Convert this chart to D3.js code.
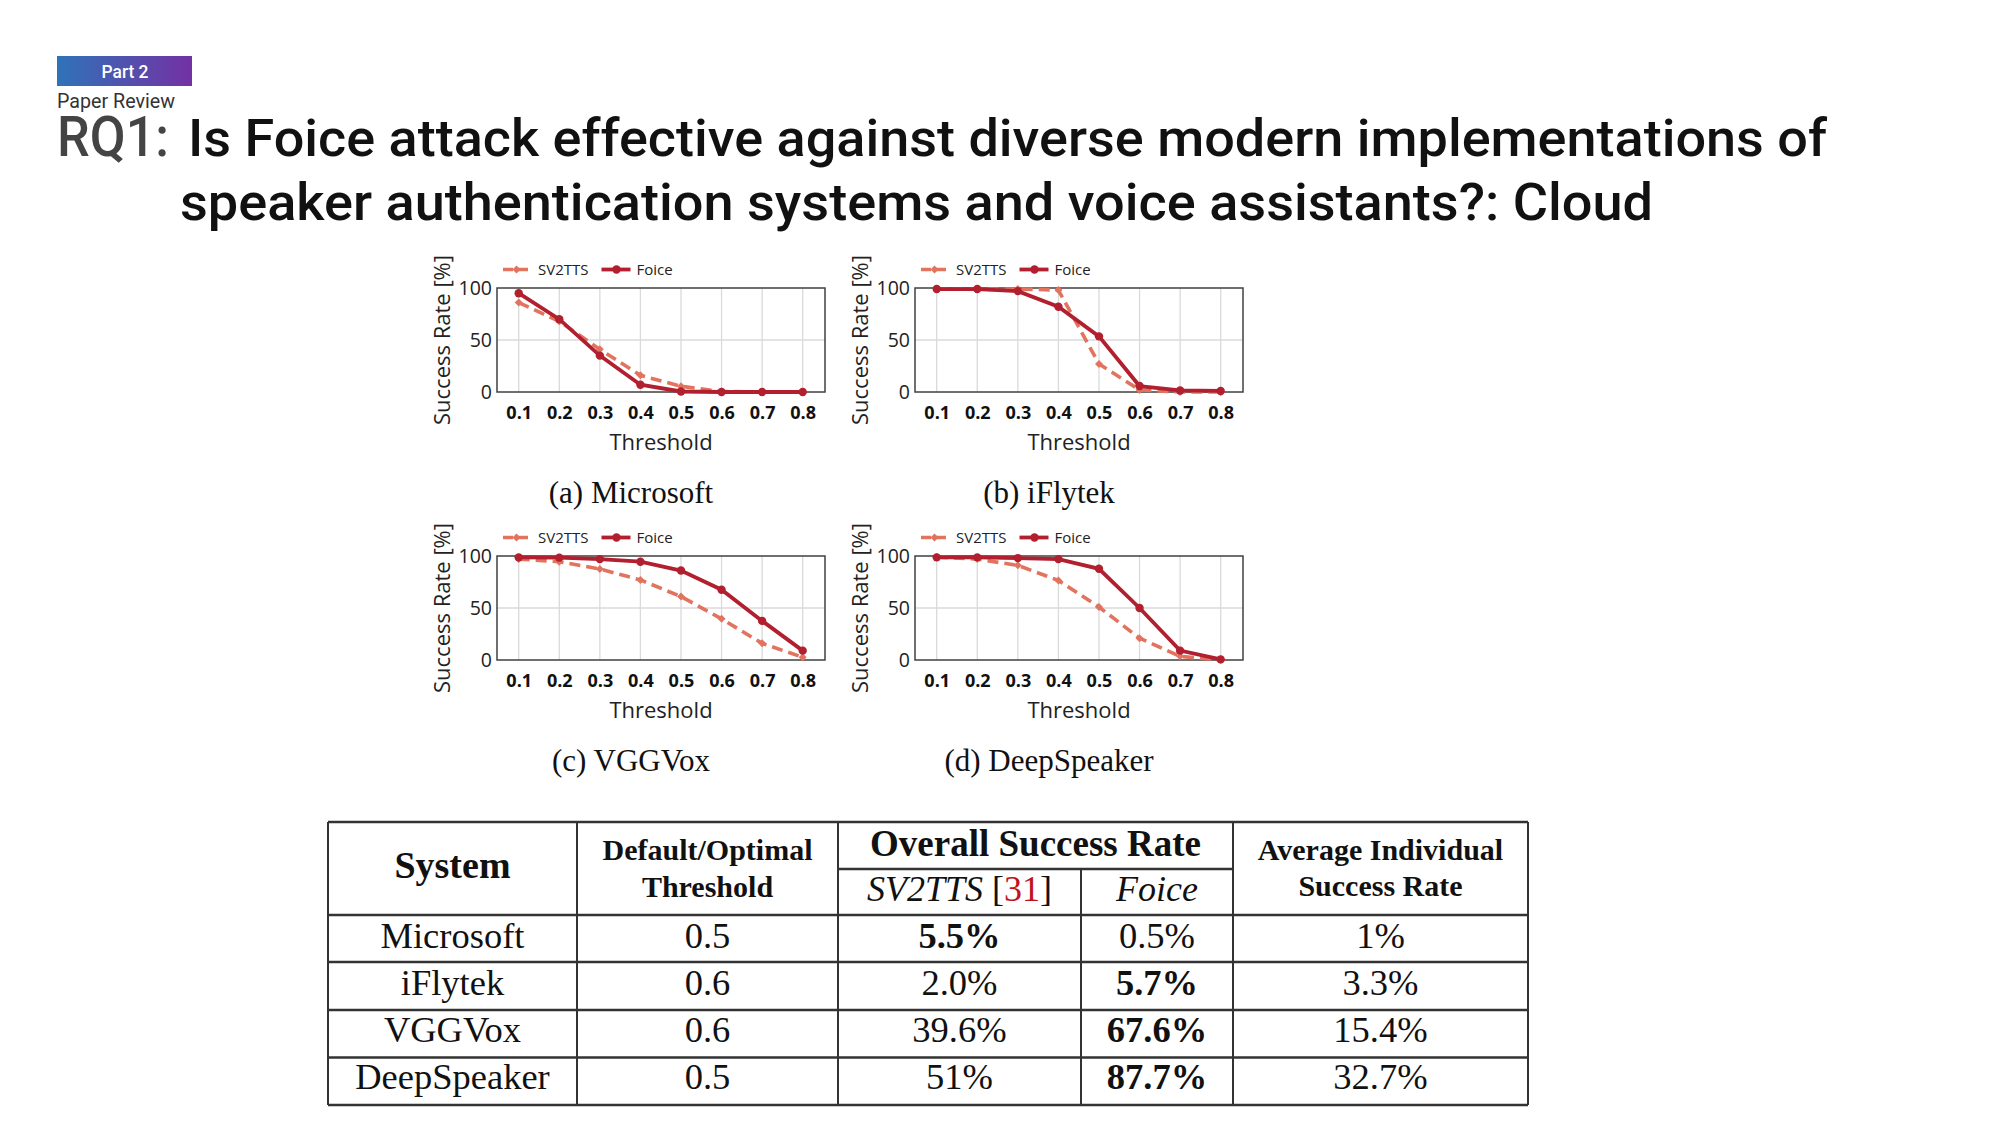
<!DOCTYPE html>
<html>
<head>
<meta charset="utf-8">
<script src="https://cdn.jsdelivr.net/npm/d3@7"></script>
<style>
  html, body { margin: 0; padding: 0; background: #ffffff; }
  svg { display: block; }
</style>
</head>
<body>
<svg id="chart" width="2000" height="1125"></svg>
<script>
// ---------------- DATA ----------------
const thresholds = [0.1, 0.2, 0.3, 0.4, 0.5, 0.6, 0.7, 0.8];
const xTickLabels = ["0.1", "0.2", "0.3", "0.4", "0.5", "0.6", "0.7", "0.8"];
const yTicks = [0, 50, 100];
const seriesNames = ["SV2TTS", "Foice"];
const panelCaptions = ["(a) Microsoft", "(b) iFlytek", "(c) VGGVox", "(d) DeepSpeaker"];

const sv2ttsMicrosoft   = [86, 68, 41, 16, 5.5, 0.5, 0, 0];
const foiceMicrosoft    = [95, 70, 35, 7, 0.5, 0, 0, 0];
const sv2ttsIflytek     = [99, 99, 99, 98, 27, 2, 0, 0];
const foiceIflytek      = [99, 99, 97, 82, 53.5, 5.7, 1.5, 1];
const sv2ttsVggvox      = [97, 94.5, 87.5, 77, 61, 39.6, 16, 2.6];
const foiceVggvox       = [98.7, 98.4, 97, 94.5, 86, 67.6, 37.6, 9];
const sv2ttsDeepspeaker = [99, 97, 91, 76.5, 51, 21, 3.5, 0];
const foiceDeepspeaker  = [98.7, 98.7, 98, 97, 87.7, 50, 9, 0.6];

const tableSystems       = ["Microsoft", "iFlytek", "VGGVox", "DeepSpeaker"];
const tableThresholds    = ["0.5", "0.6", "0.6", "0.5"];
const tableSV2TTS        = ["5.5%", "2.0%", "39.6%", "51%"];
const tableFoice         = ["0.5%", "5.7%", "67.6%", "87.7%"];
const tableAvgIndividual = ["1%", "3.3%", "15.4%", "32.7%"];
const tableBoldSV2TTS    = [true, false, false, false];
const tableBoldFoice     = [false, true, true, true];

// ---------------- LAYOUT ----------------
const svg = d3.select("#chart");
const C_FOICE = "#b21f2f";
const C_SV = "#e2735f";
const chartFont = "'Open Sans', 'Noto Sans', sans-serif";
const serif = "'Liberation Serif', 'Times New Roman', serif";
const titleFont = "Roboto, 'Noto Sans', sans-serif";

// header
const defs = svg.append("defs");
const grad = defs.append("linearGradient").attr("id", "badgeGrad")
  .attr("x1", "0%").attr("x2", "100%").attr("y1", "0%").attr("y2", "0%");
grad.append("stop").attr("offset", "0%").attr("stop-color", "#2f73b8");
grad.append("stop").attr("offset", "100%").attr("stop-color", "#7331a3");

svg.append("rect").attr("x", 57).attr("y", 56).attr("width", 135).attr("height", 30)
  .attr("fill", "url(#badgeGrad)");
svg.append("text").attr("x", 125).attr("y", 77.5).attr("text-anchor", "middle")
  .attr("font-family", titleFont).attr("font-size", 18).attr("font-weight", 500).attr("fill", "#fff")
  .attr("textLength", 47).attr("lengthAdjust", "spacingAndGlyphs").text("Part 2");
svg.append("text").attr("x", 57).attr("y", 107.5).attr("font-family", titleFont)
  .attr("font-size", 20).attr("fill", "#333").attr("textLength", 118)
  .attr("lengthAdjust", "spacingAndGlyphs").text("Paper Review");

svg.append("text").attr("x", 57).attr("y", 156).attr("font-family", titleFont)
  .attr("font-size", 56).attr("font-weight", 500).attr("fill", "#444").attr("textLength", 112)
  .attr("lengthAdjust", "spacingAndGlyphs").text("RQ1:");
svg.append("text").attr("x", 188).attr("y", 156).attr("font-family", titleFont)
  .attr("font-size", 52).attr("font-weight", 500).attr("fill", "#111").attr("textLength", 1639)
  .attr("lengthAdjust", "spacingAndGlyphs")
  .text("Is Foice attack effective against diverse modern implementations of");
svg.append("text").attr("x", 180).attr("y", 220).attr("font-family", titleFont)
  .attr("font-size", 52).attr("font-weight", 500).attr("fill", "#111").attr("textLength", 1473)
  .attr("lengthAdjust", "spacingAndGlyphs")
  .text("speaker authentication systems and voice assistants?: Cloud");

// ---------------- PANELS ----------------
const panels = [
  { left: 497, top: 288, sv: sv2ttsMicrosoft, fo: foiceMicrosoft, cap: panelCaptions[0] },
  { left: 915, top: 288, sv: sv2ttsIflytek, fo: foiceIflytek, cap: panelCaptions[1] },
  { left: 497, top: 556, sv: sv2ttsVggvox, fo: foiceVggvox, cap: panelCaptions[2] },
  { left: 915, top: 556, sv: sv2ttsDeepspeaker, fo: foiceDeepspeaker, cap: panelCaptions[3] }
];
const PW = 328, PH = 104;
const diamond = d3.symbol().type(d3.symbolSquare).size(32);

panels.forEach(p => {
  const g = svg.append("g").attr("transform", `translate(${p.left},${p.top})`);
  const x = d3.scaleLinear().domain([0.0465, 0.855]).range([0, PW]);
  const y = d3.scaleLinear().domain([0, 100]).range([PH, 0]);

  // grid
  g.selectAll(".vg").data(thresholds).enter().append("line")
    .attr("x1", d => x(d)).attr("x2", d => x(d)).attr("y1", 0).attr("y2", PH)
    .attr("stroke", "#dadada").attr("stroke-width", 1.3);
  g.selectAll(".hg").data([50]).enter().append("line")
    .attr("x1", 0).attr("x2", PW).attr("y1", d => y(d)).attr("y2", d => y(d))
    .attr("stroke", "#dadada").attr("stroke-width", 1.3);
  g.append("rect").attr("x", 0).attr("y", 0).attr("width", PW).attr("height", PH)
    .attr("fill", "none").attr("stroke", "#404040").attr("stroke-width", 1.5);

  // axes via d3
  const xa = g.append("g").attr("transform", `translate(0,${PH})`)
    .call(d3.axisBottom(x).tickValues(thresholds).tickFormat((d, i) => xTickLabels[i]).tickSize(0).tickPadding(14));
  xa.select(".domain").remove();
  xa.selectAll("text").attr("font-family", chartFont).attr("font-size", 18)
    .attr("font-weight", "bold").attr("fill", "#111");
  const ya = g.append("g")
    .call(d3.axisLeft(y).tickValues(yTicks).tickSize(0).tickPadding(5));
  ya.select(".domain").remove();
  ya.selectAll("text").attr("font-family", chartFont).attr("font-size", 19.5).attr("fill", "#222");

  g.append("text").attr("x", PW / 2).attr("y", PH + 57.5).attr("text-anchor", "middle")
    .attr("font-family", chartFont).attr("font-size", 22).attr("fill", "#222").text("Threshold");
  g.append("text").attr("transform", `translate(-47,${PH / 2}) rotate(-90)`)
    .attr("text-anchor", "middle").attr("font-family", chartFont).attr("font-size", 22)
    .attr("fill", "#222").text("Success Rate [%]");

  // series
  const line = d3.line().x((d, i) => x(thresholds[i])).y(d => y(d));
  g.append("path").datum(p.sv).attr("d", line).attr("fill", "none")
    .attr("stroke", C_SV).attr("stroke-width", 3.6).attr("stroke-dasharray", "11,6");
  g.selectAll(".svm").data(p.sv).enter().append("path")
    .attr("d", diamond)
    .attr("transform", (d, i) => `translate(${x(thresholds[i])},${y(d)}) rotate(45)`)
    .attr("fill", C_SV);
  g.append("path").datum(p.fo).attr("d", line).attr("fill", "none")
    .attr("stroke", C_FOICE).attr("stroke-width", 3.8);
  g.selectAll(".fom").data(p.fo).enter().append("circle")
    .attr("cx", (d, i) => x(thresholds[i])).attr("cy", d => y(d)).attr("r", 4.2)
    .attr("fill", C_FOICE);

  // legend
  const lg = g.append("g").attr("transform", "translate(0,-18.5)");
  lg.append("line").attr("x1", 6).attr("x2", 34.5).attr("y1", 0).attr("y2", 0)
    .attr("stroke", C_SV).attr("stroke-width", 3.6).attr("stroke-dasharray", "10,5");
  lg.append("path").attr("d", diamond).attr("transform", "translate(19.5,0) rotate(45)").attr("fill", C_SV);
  lg.append("text").attr("x", 41).attr("y", 0).attr("dy", "0.35em")
    .attr("font-family", chartFont).attr("font-size", 15).attr("fill", "#222").text(seriesNames[0]);
  lg.append("line").attr("x1", 104.5).attr("x2", 133.5).attr("y1", 0).attr("y2", 0)
    .attr("stroke", C_FOICE).attr("stroke-width", 3.8);
  lg.append("circle").attr("cx", 119.5).attr("cy", 0).attr("r", 4.2).attr("fill", C_FOICE);
  lg.append("text").attr("x", 139.5).attr("y", 0).attr("dy", "0.35em")
    .attr("font-family", chartFont).attr("font-size", 15).attr("fill", "#222").text(seriesNames[1]);

  // caption
  g.append("text").attr("x", 134).attr("y", 215.3).attr("text-anchor", "middle")
    .attr("font-family", serif).attr("font-size", 31).attr("fill", "#111").text(p.cap);
});

// ---------------- TABLE ----------------
const colX = [328, 577, 838, 1081, 1233, 1528];
const rowY = [822, 915, 962, 1010, 1057.5, 1105];
const tg = svg.append("g");
const lineColor = "#333";
rowY.forEach((yy) => {
  tg.append("line").attr("x1", colX[0]).attr("x2", colX[5]).attr("y1", yy).attr("y2", yy)
    .attr("stroke", lineColor).attr("stroke-width", 2.5);
});
tg.append("line").attr("x1", colX[2]).attr("x2", colX[4]).attr("y1", 869).attr("y2", 869)
  .attr("stroke", lineColor).attr("stroke-width", 2.5);
[0, 1, 2, 4, 5].forEach(ci => {
  tg.append("line").attr("x1", colX[ci]).attr("x2", colX[ci]).attr("y1", rowY[0]).attr("y2", rowY[5])
    .attr("stroke", lineColor).attr("stroke-width", 2);
});
tg.append("line").attr("x1", colX[3]).attr("x2", colX[3]).attr("y1", 869).attr("y2", rowY[5])
  .attr("stroke", lineColor).attr("stroke-width", 2);

const cx = i => (colX[i] + colX[i + 1]) / 2;
function ttext(x, y, txt, size, weight, style) {
  return tg.append("text").attr("x", x).attr("y", y).attr("text-anchor", "middle")
    .attr("font-family", serif).attr("font-size", size)
    .attr("font-weight", weight || "normal").attr("font-style", style || "normal")
    .attr("fill", "#111").text(txt);
}
ttext(cx(0), 878, "System", 38, "bold");
ttext(cx(1), 860, "Default/Optimal", 30, "bold");
ttext(cx(1), 897, "Threshold", 30, "bold");
ttext((colX[2] + colX[4]) / 2, 856, "Overall Success Rate", 37, "bold");
const svHead = tg.append("text").attr("x", cx(2)).attr("y", 901).attr("text-anchor", "middle")
  .attr("font-family", serif).attr("font-size", 36).attr("fill", "#111");
svHead.append("tspan").attr("font-style", "italic").text("SV2TTS ");
svHead.append("tspan").text("[");
svHead.append("tspan").attr("fill", "#c0141c").text("31");
svHead.append("tspan").text("]");
ttext(cx(3), 901, "Foice", 36, "normal", "italic");
ttext(cx(4), 860, "Average Individual", 30, "bold");
ttext(cx(4), 896, "Success Rate", 30, "bold");

const rowBase = [948, 995, 1042, 1089];
tableSystems.forEach((s, i) => {
  ttext(cx(0), rowBase[i], s, 36.5);
  ttext(cx(1), rowBase[i], tableThresholds[i], 36.5);
  ttext(cx(2), rowBase[i], tableSV2TTS[i], 36.5, tableBoldSV2TTS[i] ? "bold" : "normal");
  ttext(cx(3), rowBase[i], tableFoice[i], 36.5, tableBoldFoice[i] ? "bold" : "normal");
  ttext(cx(4), rowBase[i], tableAvgIndividual[i], 36.5);
});
</script>
</body>
</html>
